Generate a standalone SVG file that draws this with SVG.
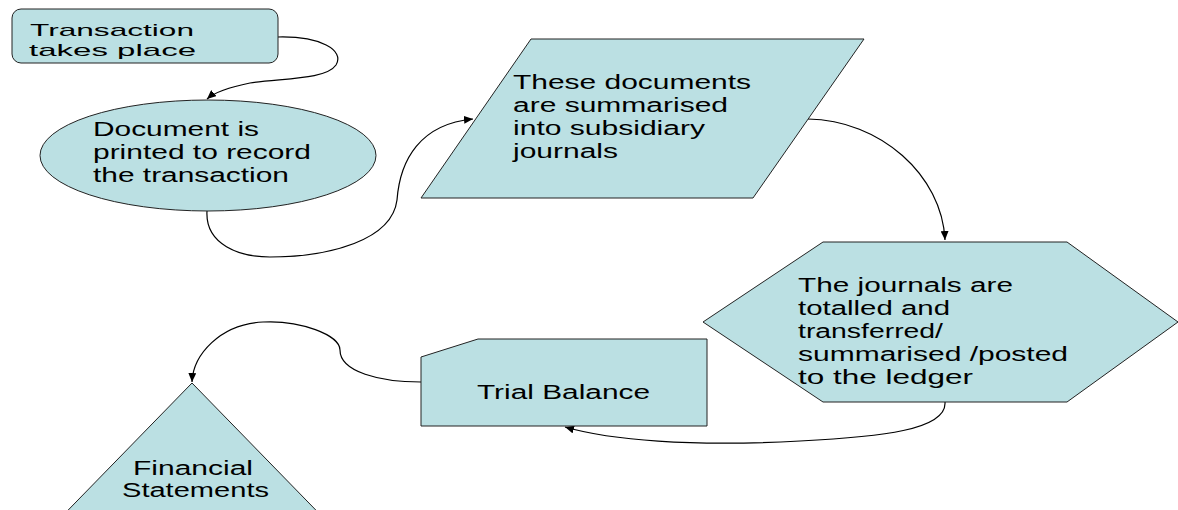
<svg xmlns="http://www.w3.org/2000/svg" width="1178" height="510" viewBox="0 0 1178 510">
  <defs>
    <style>
      .shape { fill: #BBE0E3; stroke: #222; stroke-width: 1; }
      .label { font-family: "Liberation Sans", Arial, sans-serif; font-size: 20px; fill: #000; }
      .small { font-size: 17px; }
      .conn { fill: none; stroke: #000; stroke-width: 1.2; marker-end: url(#arrow); }
    </style>
    <marker id="arrow" markerUnits="userSpaceOnUse" markerWidth="10" markerHeight="8" refX="9" refY="4" orient="auto">
      <path d="M0,0 L9,4 L0,8 Z" fill="#000"/>
    </marker>
  </defs>
  <rect width="1178" height="510" fill="#fff"/>

  <!-- connectors -->
  <g id="connectors">
    <path class="conn" d="M278,37 C320,36 345,50 336,65 C326,80 280,78 250,83 C230,87 215,92 207,99"/>
    <path class="conn" d="M207,211 C205,245 240,257 270,257 C330,257 392,240 397,200 C400,160 420,124 473,119"/>
    <path class="conn" d="M808,119 C880,120 942,175 945,240"/>
    <path class="conn" d="M945,402 C947,430 880,437 800,441 C690,447 610,440 565,427"/>
    <path class="conn" d="M421,382 C380,382 340,372 340,350 C340,335 300,320 263,322 C220,324 193,355 192,382"/>
  </g>

  <!-- start: the transaction -->
  <g id="transaction">
    <rect class="shape" x="12" y="9" width="266" height="54" rx="9" ry="9"/>
    <text class="label small" x="30" y="36" textLength="164" lengthAdjust="spacingAndGlyphs">Transaction</text>
    <text class="label small" x="29" y="56" textLength="167" lengthAdjust="spacingAndGlyphs">takes place</text>
  </g>

  <!-- source document -->
  <g id="document">
    <ellipse class="shape" cx="208" cy="155.5" rx="168" ry="55.5"/>
    <text class="label" x="93" y="136" textLength="166" lengthAdjust="spacingAndGlyphs">Document is</text>
    <text class="label" x="93" y="159" textLength="218" lengthAdjust="spacingAndGlyphs">printed to record</text>
    <text class="label" x="93" y="182" textLength="196" lengthAdjust="spacingAndGlyphs">the transaction</text>
  </g>

  <!-- subsidiary journals -->
  <g id="journals">
    <polygon class="shape" points="531,39 864,39 753,198 421,198"/>
    <text class="label" x="513" y="89" textLength="238" lengthAdjust="spacingAndGlyphs">These documents</text>
    <text class="label" x="513" y="112" textLength="215" lengthAdjust="spacingAndGlyphs">are summarised</text>
    <text class="label" x="513" y="135" textLength="192" lengthAdjust="spacingAndGlyphs">into subsidiary</text>
    <text class="label" x="513" y="158" textLength="105" lengthAdjust="spacingAndGlyphs">journals</text>
  </g>

  <!-- posting to the ledger -->
  <g id="ledger">
    <polygon class="shape" points="703,322 823,242 1067,242 1178,322 1067,402 823,402"/>
    <text class="label" x="798" y="292" textLength="215" lengthAdjust="spacingAndGlyphs">The journals are</text>
    <text class="label" x="798" y="315" textLength="152" lengthAdjust="spacingAndGlyphs">totalled and</text>
    <text class="label" x="798" y="338" textLength="145" lengthAdjust="spacingAndGlyphs">transferred/</text>
    <text class="label" x="798" y="361" textLength="270" lengthAdjust="spacingAndGlyphs">summarised /posted</text>
    <text class="label" x="798" y="384" textLength="175" lengthAdjust="spacingAndGlyphs">to the ledger</text>
  </g>

  <!-- trial balance -->
  <g id="trial-balance">
    <polygon class="shape" points="421,357 478,339 707,339 707,426 421,426"/>
    <text class="label" x="477" y="399" textLength="173" lengthAdjust="spacingAndGlyphs">Trial Balance</text>
  </g>

  <!-- financial statements -->
  <g id="financial-statements">
    <polygon class="shape" points="192,383 345,540 39,540"/>
    <text class="label" x="133" y="475" textLength="120" lengthAdjust="spacingAndGlyphs">Financial</text>
    <text class="label" x="122" y="497" textLength="147" lengthAdjust="spacingAndGlyphs">Statements</text>
  </g>
</svg>
